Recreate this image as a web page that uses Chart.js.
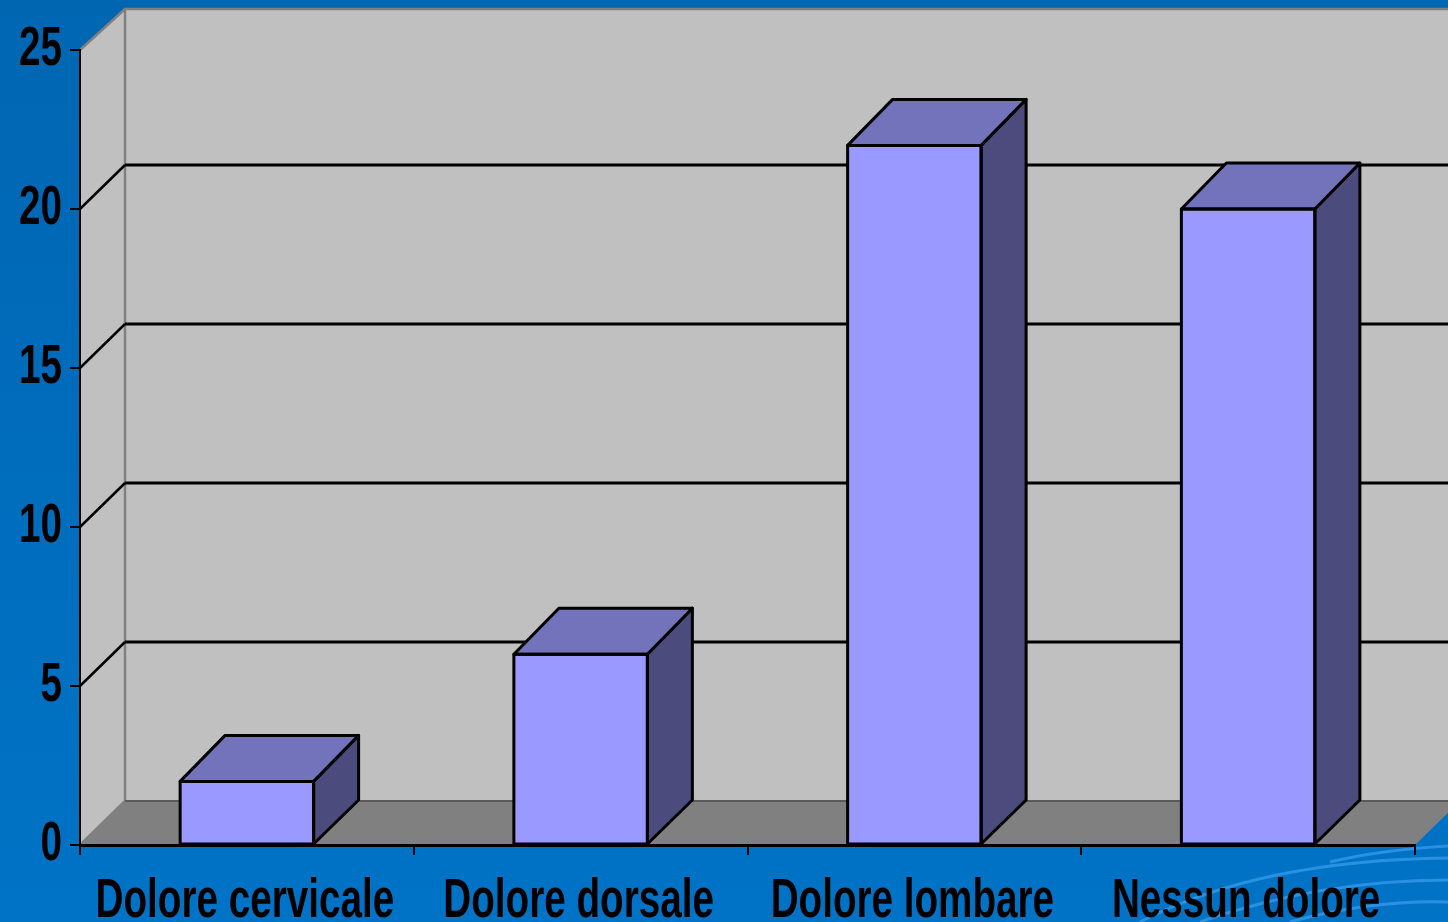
<!DOCTYPE html>
<html>
<head>
<meta charset="utf-8">
<script src="https://cdn.jsdelivr.net/npm/chart.js@4.4.1/dist/chart.umd.min.js"></script>
<style>
  html, body { margin: 0; padding: 0; overflow: hidden; background: #006cbc; }
  canvas { display: block; }
</style>
</head>
<body>
<canvas id="painChart" width="1448" height="922"></canvas>
<script>
// dati del grafico
const categories = ['Dolore cervicale', 'Dolore dorsale', 'Dolore lombare', 'Nessun dolore'];
const values = [2, 6, 22, 20];
const yMin = 0;
const yMax = 25;
const yStep = 5;

// profondità 3D (px)
const DX = 45;
const DY = 44;
const FONT = 'bold 56px "Liberation Sans", Arial, sans-serif';
const TEXT_SCALE = 0.69;

function poly(ctx, pts, fill, stroke, lw) {
  ctx.beginPath();
  ctx.moveTo(pts[0][0], pts[0][1]);
  for (let i = 1; i < pts.length; i++) ctx.lineTo(pts[i][0], pts[i][1]);
  ctx.closePath();
  if (fill) { ctx.fillStyle = fill; ctx.fill(); }
  if (stroke) { ctx.strokeStyle = stroke; ctx.lineWidth = lw; ctx.lineJoin = 'round'; ctx.stroke(); }
}

const box3d = {
  id: 'box3d',
  beforeDraw(chart) {
    const ctx = chart.ctx;
    const { left: L, right: R, top: T, bottom: B } = chart.chartArea;
    const y = chart.scales.y;
    ctx.save();
    // sfondo blu
    const g = ctx.createLinearGradient(0, 0, 0, chart.height);
    g.addColorStop(0, '#0066b2');
    g.addColorStop(1, '#0073c6');
    ctx.fillStyle = g;
    ctx.fillRect(0, 0, chart.width, chart.height);

    // onde decorative in basso a destra
    ctx.strokeStyle = 'rgba(70,165,245,0.6)';
    ctx.lineWidth = 3;
    [[1140, 922, 1260, 860, 1448, 858], [1200, 922, 1320, 880, 1448, 880],
     [1290, 922, 1370, 900, 1448, 902], [1330, 862, 1380, 850, 1448, 846]].forEach(c => {
      ctx.beginPath();
      ctx.moveTo(c[0], c[1]);
      ctx.quadraticCurveTo(c[2], c[3], c[4], c[5]);
      ctx.stroke();
    });

    // parete di fondo
    poly(ctx, [[L + DX, T - DY + 3], [R + DX, T - DY + 3], [R + DX, B - DY], [L + DX, B - DY]], '#c0c0c0');
    // parete laterale
    poly(ctx, [[L, T], [L + DX, T - DY + 3], [L + DX, B - DY], [L, B]], '#c0c0c0');
    // pavimento
    poly(ctx, [[L, B], [L + DX, B - DY], [R + DX, B - DY], [R, B]], '#808080');

    // bordi grigi
    ctx.strokeStyle = '#808080';
    ctx.lineWidth = 2.5;
    ctx.beginPath();
    ctx.moveTo(L, T); ctx.lineTo(L + DX, T - DY + 3); ctx.lineTo(R + DX, T - DY + 3);
    ctx.moveTo(L + DX, T - DY + 3); ctx.lineTo(L + DX, B - DY);
    ctx.moveTo(L, B); ctx.lineTo(L + DX, B - DY);
    ctx.stroke();
    ctx.strokeStyle = '#5a5a5a';
    ctx.lineWidth = 2;
    ctx.beginPath();
    ctx.moveTo(L + DX, B - DY); ctx.lineTo(R + DX, B - DY);
    ctx.stroke();

    // griglia
    ctx.strokeStyle = '#000';
    for (let v = yMin + yStep; v < yMax; v += yStep) {
      const py = y.getPixelForValue(v);
      ctx.lineWidth = 2.5;
      ctx.beginPath();
      ctx.moveTo(L, py); ctx.lineTo(L + DX, py - DY);
      ctx.stroke();
      ctx.lineWidth = 3;
      ctx.beginPath();
      ctx.moveTo(L + DX, py - DY); ctx.lineTo(R + DX, py - DY);
      ctx.stroke();
    }
    ctx.restore();
  },
  afterDatasetsDraw(chart) {
    const ctx = chart.ctx;
    const meta = chart.getDatasetMeta(0);
    ctx.save();
    meta.data.forEach(bar => {
      const { x, y, width, base } = bar.getProps(['x', 'y', 'width', 'base'], true);
      const xl = x - width / 2, xr = x + width / 2;
      // lato
      poly(ctx, [[xr, y], [xr + DX, y - DY - 2], [xr + DX, base - DY], [xr, base]], '#4b4b7e', '#000', 3);
      // tetto
      poly(ctx, [[xl, y], [xl + DX, y - DY - 2], [xr + DX, y - DY - 2], [xr, y]], '#7373bb', '#000', 3);
      // faccia frontale (ribordo)
      poly(ctx, [[xl, y], [xr, y], [xr, base], [xl, base]], null, '#000', 3);
    });
    ctx.restore();
  },
  afterDraw(chart) {
    const ctx = chart.ctx;
    const xs = chart.scales.x, ys = chart.scales.y;
    ctx.save();
    ctx.fillStyle = '#000';
    ctx.font = FONT;
    // etichette asse y
    ctx.textAlign = 'right';
    ctx.textBaseline = 'middle';
    ys.ticks.forEach((t, i) => {
      const py = ys.getPixelForTick(i);
      ctx.save();
      ctx.translate(ys.right - 18, py);
      ctx.scale(TEXT_SCALE, 1);
      ctx.fillText(String(t.value), 0, 0);
      ctx.restore();
    });
    // etichette asse x
    ctx.textAlign = 'center';
    ctx.textBaseline = 'alphabetic';
    categories.forEach((c, i) => {
      const px = xs.getPixelForTick(i);
      ctx.save();
      ctx.translate(px - 2, 917);
      ctx.scale(TEXT_SCALE, 1);
      ctx.fillText(c, 0, 0);
      ctx.restore();
    });
    ctx.restore();
  }
};

function initChart() {
  const ctx = document.getElementById('painChart').getContext('2d');
  new Chart(ctx, {
    type: 'bar',
    data: {
      labels: categories,
      datasets: [{
        data: values,
        backgroundColor: '#9999ff',
        borderColor: '#000',
        borderWidth: 0,
        barPercentage: 0.4,
        categoryPercentage: 1.0
      }]
    },
    options: {
      responsive: false,
      animation: false,
      devicePixelRatio: 1,
      layout: { padding: { top: 50, right: 33, left: 0, bottom: 0 } },
      plugins: {
        legend: { display: false },
        tooltip: { enabled: false }
      },
      scales: {
        x: {
          afterFit: s => { s.height = 77; },
          ticks: { display: false },
          grid: { drawOnChartArea: false, color: '#000', lineWidth: 2, tickLength: 10, offset: true },
          border: { display: true, color: '#000', width: 3 }
        },
        y: {
          min: yMin,
          max: yMax,
          afterFit: s => { s.width = 80; },
          ticks: { display: false, stepSize: yStep },
          grid: { drawOnChartArea: false, color: '#000', lineWidth: 2, tickLength: 10 },
          border: { display: true, color: '#000', width: 2 }
        }
      }
    },
    plugins: [box3d]
  });
}

document.addEventListener('DOMContentLoaded', initChart);
</script>
</body>
</html>
